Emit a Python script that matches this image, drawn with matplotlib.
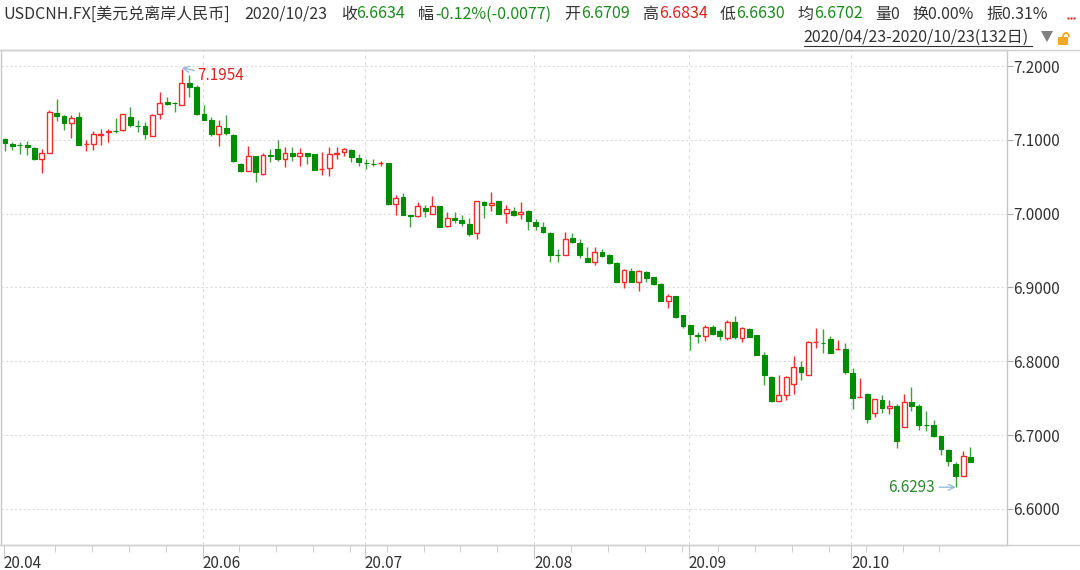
import numpy as np
import matplotlib
matplotlib.use("Agg")
import matplotlib.pyplot as plt
from matplotlib.patches import Rectangle, Polygon, Arc
from matplotlib.lines import Line2D

plt.rcParams['font.family'] = ['Noto Sans CJK SC', 'DejaVu Sans']

# daily candles 2020/04/23 - 2020/10/23 (132 days)
opens = [7.1014, 7.0941, 7.0932, 7.0930, 7.0887, 7.0738, 7.0819, 7.1367, 7.1317, 7.1231,
         7.1303, 7.0946, 7.0941, 7.1072, 7.1100, 7.1124, 7.1131, 7.1308, 7.1184, 7.1181,
         7.1054, 7.1353, 7.1511, 7.1495, 7.1466, 7.1774, 7.1715, 7.1344, 7.1262, 7.1081,
         7.1163, 7.1072, 7.0674, 7.0584, 7.0778, 7.0538, 7.0790, 7.0869, 7.0742, 7.0824,
         7.0778, 7.0819, 7.0810, 7.0602, 7.0615, 7.0814, 7.0830, 7.0864, 7.0759, 7.0686,
         7.0670, 7.0680, 7.0691, 7.0132, 7.0223, 6.9977, 6.9973, 7.0077, 7.0000, 7.0100,
         6.9827, 6.9941, 6.9909, 6.9864, 6.9736, 7.0159, 7.0123, 7.0168, 7.0012, 7.0038,
         6.9991, 7.0036, 6.9892, 6.9824, 6.9743, 6.9441, 6.9441, 6.9676, 6.9608, 6.9405,
         6.9347, 6.9486, 6.9437, 6.9329, 6.9077, 6.9225, 6.9077, 6.9203, 6.9135, 6.9045,
         6.8816, 6.8881, 6.8623, 6.8488, 6.8361, 6.8339, 6.8461, 6.8416, 6.8316, 6.8533,
         6.8316, 6.8443, 6.8352, 6.8081, 6.7788, 6.7458, 6.7548, 6.7693, 6.7923, 6.7810,
         6.8259, 6.8250, 6.8303, 6.8165, 6.8167, 6.7842, 6.7518, 6.7557, 6.7294, 6.7475,
         6.7362, 6.7389, 6.7104, 6.7443, 6.7389, 6.7138, 6.7136, 6.6982, 6.6796, 6.6606,
         6.6448, 6.6709]
highs = [7.1027, 7.0973, 7.0968, 7.0980, 7.0896, 7.0878, 7.1398, 7.1557, 7.1339, 7.1330,
         7.1376, 7.0991, 7.1113, 7.1140, 7.1140, 7.1294, 7.1353, 7.1443, 7.1262, 7.1240,
         7.1353, 7.1647, 7.1579, 7.1511, 7.1954, 7.1873, 7.1738, 7.1466, 7.1308, 7.1271,
         7.1330, 7.1081, 7.0688, 7.0914, 7.0787, 7.0824, 7.0878, 7.0991, 7.0900, 7.0900,
         7.0887, 7.0828, 7.0810, 7.0833, 7.0900, 7.0900, 7.0890, 7.0873, 7.0805, 7.0745,
         7.0736, 7.0714, 7.0691, 7.0259, 7.0282, 6.9986, 7.0155, 7.0123, 7.0245, 7.0100,
         7.0018, 7.0018, 6.9986, 6.9941, 7.0168, 7.0168, 7.0291, 7.0177, 7.0111, 7.0093,
         7.0158, 7.0045, 6.9932, 6.9887, 6.9757, 6.9527, 6.9757, 6.9743, 6.9662, 6.9541,
         6.9541, 6.9527, 6.9450, 6.9338, 6.9248, 6.9257, 6.9234, 6.9225, 6.9135, 6.9054,
         6.8910, 6.8890, 6.8632, 6.8497, 6.8393, 6.8497, 6.8497, 6.8438, 6.8556, 6.8610,
         6.8465, 6.8452, 6.8361, 6.8122, 6.7797, 6.7819, 6.7806, 6.8077, 6.8000, 6.8271,
         6.8452, 6.8443, 6.8348, 6.8294, 6.8249, 6.7905, 6.7769, 6.7570, 6.7489, 6.7543,
         6.7480, 6.7416, 6.7557, 6.7647, 6.7421, 6.7330, 6.7208, 6.6991, 6.6810, 6.6638,
         6.6787, 6.6834]
lows = [7.0842, 7.0864, 7.0810, 7.0790, 7.0733, 7.0548, 7.0819, 7.1249, 7.1136, 7.1023,
        7.0932, 7.0842, 7.0864, 7.0932, 7.0977, 7.1095, 7.1113, 7.1172, 7.1104, 7.1009,
        7.1054, 7.1285, 7.1475, 7.1376, 7.1466, 7.1579, 7.1339, 7.1262, 7.1050, 7.0914,
        7.1059, 7.0706, 7.0561, 7.0575, 7.0434, 7.0525, 7.0697, 7.0719, 7.0629, 7.0719,
        7.0652, 7.0674, 7.0593, 7.0525, 7.0511, 7.0742, 7.0782, 7.0700, 7.0645, 7.0600,
        7.0645, 7.0645, 7.0114, 6.9986, 6.9977, 6.9818, 6.9955, 6.9955, 7.0000, 6.9818,
        6.9818, 6.9873, 6.9836, 6.9691, 6.9655, 6.9941, 7.0041, 7.0000, 6.9876, 6.9966,
        6.9932, 6.9779, 6.9779, 6.9743, 6.9338, 6.9347, 6.9441, 6.9608, 6.9392, 6.9338,
        6.9302, 6.9419, 6.9324, 6.9068, 6.8986, 6.9068, 6.8955, 6.9068, 6.9032, 6.8811,
        6.8720, 6.8587, 6.8452, 6.8149, 6.8248, 6.8271, 6.8361, 6.8294, 6.8294, 6.8303,
        6.8262, 6.8325, 6.8081, 6.7675, 6.7449, 6.7458, 6.7481, 6.7557, 6.7743, 6.7810,
        6.8181, 6.8117, 6.8113, 6.8158, 6.7828, 6.7353, 6.7511, 6.7163, 6.7240, 6.7294,
        6.7285, 6.6819, 6.7104, 6.7330, 6.7072, 6.7059, 6.6968, 6.6729, 6.6584, 6.6293,
        6.6439, 6.6630]
closes = [7.0955, 7.0914, 7.0928, 7.0900, 7.0742, 7.0819, 7.1376, 7.1317, 7.1226, 7.1299,
          7.0932, 7.0950, 7.1077, 7.1077, 7.1122, 7.1120, 7.1344, 7.1195, 7.1181, 7.1077,
          7.1330, 7.1498, 7.1489, 7.1493, 7.1774, 7.1715, 7.1353, 7.1271, 7.1081, 7.1181,
          7.1095, 7.0719, 7.0575, 7.0787, 7.0561, 7.0801, 7.0787, 7.0742, 7.0824, 7.0774,
          7.0824, 7.0783, 7.0593, 7.0606, 7.0810, 7.0819, 7.0870, 7.0773, 7.0705, 7.0682,
          7.0668, 7.0682, 7.0136, 7.0214, 6.9986, 6.9973, 7.0100, 7.0032, 7.0109, 6.9818,
          6.9941, 6.9909, 6.9873, 6.9727, 7.0168, 7.0123, 7.0145, 7.0000, 7.0057, 6.9978,
          7.0023, 6.9901, 6.9833, 6.9752, 6.9441, 6.9437, 6.9662, 6.9617, 6.9437, 6.9338,
          6.9486, 6.9428, 6.9329, 6.9068, 6.9234, 6.9068, 6.9216, 6.9126, 6.9045, 6.8820,
          6.8880, 6.8596, 6.8483, 6.8370, 6.8339, 6.8465, 6.8370, 6.8339, 6.8533, 6.8325,
          6.8452, 6.8325, 6.8081, 6.7810, 6.7458, 6.7539, 6.7788, 6.7923, 6.7851, 6.8262,
          6.8264, 6.8246, 6.8118, 6.8167, 6.7860, 6.7502, 6.7520, 6.7217, 6.7489, 6.7367,
          6.7398, 6.6914, 6.7443, 6.7398, 6.7136, 6.7134, 6.6982, 6.6810, 6.6652, 6.6448,
          6.6719, 6.6634]

price_ticks = [6.6, 6.7, 6.8, 6.9, 7.0, 7.1, 7.2]
month_labels = ['20.04', '20.06', '20.07', '20.08', '20.09', '20.10']
month_idx = [0, 27, 49, 72, 93, 115]
week_idx = list(range(7, 132, 5))

RED = '#f02c2c'
GREEN = '#008c00'
GRID = '#dcdcdc'
TXT = '#333333'

W, H = 1080, 570
fig = plt.figure(figsize=(W / 100, H / 100), dpi=100)
fig.patch.set_facecolor('white')

def fx(x):
    return x / W

def fy(y):
    return 1 - y / H

ax = fig.add_axes([fx(1), fy(545), fx(1007) - fx(1), fy(50) - fy(545)])
ax.set_facecolor('white')

n = len(opens)
idx = np.arange(n)
bw = 0.66
for i in idx:
    o, h, l, c = opens[i], highs[i], lows[i], closes[i]
    if c >= o:
        top, bot = c, o
        ax.vlines(i, top, h, color=RED, lw=1, zorder=3)
        ax.vlines(i, l, bot, color=RED, lw=1, zorder=3)
        ax.add_patch(Rectangle((i - bw / 2, bot), bw, max(top - bot, 0.0003),
                               facecolor='white', edgecolor=RED, lw=1, zorder=4))
    else:
        ax.vlines(i, l, h, color='#3aa23a', lw=1, zorder=3)
        ax.add_patch(Rectangle((i - bw / 2, c), bw, max(o - c, 0.0003),
                               facecolor=GREEN, edgecolor=GREEN, lw=0.8, zorder=4))

ax.set_xlim(-0.543, 135.96)
ax.set_ylim(6.551, 7.2217)

for p in price_ticks:
    ax.axhline(p, color=GRID, lw=0.8, dashes=(2, 2), zorder=1)
for m in month_idx[1:]:
    ax.axvline(m - 0.2, color=GRID, lw=0.8, dashes=(3, 3), zorder=1)

ax.yaxis.tick_right()
ax.set_yticks(price_ticks)
ax.set_yticklabels(['%.4f' % p for p in price_ticks])
ax.tick_params(axis='y', length=4, color='#aaaaaa', labelcolor=TXT,
               labelsize=11, pad=0.5)

ax.set_xticks([m - 0.2 for m in month_idx])
ax.set_xticklabels(month_labels)
ax.set_xticks([w - 0.2 for w in week_idx], minor=True)
ax.tick_params(axis='x', which='major', length=10, color='#c8c8c8',
               labelcolor=TXT, labelsize=11, pad=-3)
ax.tick_params(axis='x', which='minor', length=5, color='#c8c8c8')
for t in ax.get_xticklabels():
    t.set_horizontalalignment('left')
    t.set_x(t.get_position()[0])

for s in ax.spines.values():
    s.set_color('#c8c8c8')
    s.set_linewidth(1)

# annotations for extreme values
ax.annotate('7.1954', xy=(24, 7.1975), xytext=(26.1, 7.187),
            color='#dd2222', fontsize=11, va='center', ha='left',
            arrowprops=dict(arrowstyle='->', color='#8fb8da', lw=0.9,
                            shrinkA=0, shrinkB=0))
ax.annotate('6.6293', xy=(129, 6.6293), xytext=(126.2, 6.6293),
            color='#2a8a2a', fontsize=11, va='center', ha='right',
            arrowprops=dict(arrowstyle='->', color='#8fb8da', lw=0.9,
                            shrinkA=1, shrinkB=0))

# frame lines spanning full width
fig.add_artist(Line2D([0, 1], [fy(50), fy(50)], color='#d0d0d0', lw=1))
fig.add_artist(Line2D([0, 1], [fy(545), fy(545)], color='#d0d0d0', lw=1))

# header
hy = fy(14)
items = [
    (3.5, 'USDCNH.FX[美元兑离岸人民币]', TXT),
    (244.5, '2020/10/23', TXT),
    (341, '收', TXT), (356, '6.6634', '#1a8a1a'),
    (418, '幅', TXT), (435.5, '-0.12%(-0.0077)', '#1a8a1a'),
    (564, '开', TXT), (581, '6.6709', '#1a8a1a'),
    (642, '高', TXT), (659, '6.6834', '#dd2020'),
    (720, '低', TXT), (736, '6.6630', '#1a8a1a'),
    (797, '均', TXT), (814, '6.6702', '#1a8a1a'),
    (875, '量0', TXT),
    (912.5, '换0.00%', TXT),
    (986.5, '振0.31%', TXT),
]
for x, s, col in items:
    fig.text(fx(x), hy, s, color=col, fontsize=11.5, va='center', ha='left')
# red "more" dots at far right of header
fig.add_artist(Line2D([fx(1068), fx(1071), fx(1074)], [fy(18)] * 3, ls='none',
                      marker='s', ms=1.6, color='#dd2020', mec='none'))

fig.text(fx(803.5), fy(37), '2020/04/23-2020/10/23(132日)', color=TXT,
         fontsize=11.5, va='center', ha='left')
fig.add_artist(Line2D([fx(803.5), fx(1031.5)], [fy(46), fy(46)], color=TXT, lw=0.8))
fig.add_artist(Polygon([[fx(1041), fy(31)], [fx(1053), fy(31)], [fx(1047), fy(42)]],
                       closed=True, facecolor='#808080', edgecolor='none',
                       transform=fig.transFigure))
fig.add_artist(Rectangle((fx(1058), fy(45)), fx(10), 8 / H, facecolor='#f5a623',
                         edgecolor='none', transform=fig.transFigure))
fig.add_artist(Arc((fx(1066), fy(37)), fx(6), 8 / H, theta1=0, theta2=180,
                   color='#f5a623', lw=1.3, transform=fig.transFigure))

fig.savefig('out.png', dpi=100)
